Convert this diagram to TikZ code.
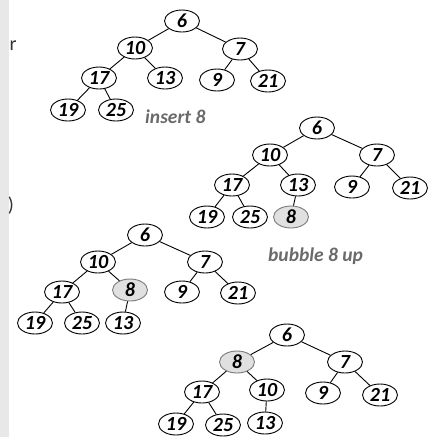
\documentclass[tikz,border=0pt]{standalone}
\usepackage{fontspec}
\setmainfont{Carlito}
\usetikzlibrary{shapes.geometric}
\definecolor{bandgray}{HTML}{E8E8E8}
\definecolor{labelgray}{HTML}{6A6A6A}
\definecolor{hlfill}{HTML}{E0E0E0}
\definecolor{hldraw}{HTML}{7A7A7A}
\tikzset{
  hn/.style={ellipse, draw=black, line width=0.9pt, fill=white, minimum width=35pt, minimum height=22pt, inner sep=0pt, font=\fontsize{20}{20}\selectfont\bfseries\itshape},
  hl/.style={hn, fill=hlfill, draw=hldraw},
  edge/.style={draw=black, line width=0.9pt},
  lbl/.style={font=\fontsize{19.5}{19.5}\selectfont\bfseries\itshape, text=labelgray, inner sep=0pt},
  cut/.style={font=\fontsize{20}{20}\selectfont, text=black!80, inner sep=0pt}
}
\begin{document}
\begin{tikzpicture}[x=1pt,y=-1pt]
\useasboundingbox (0,0) rectangle (437,437);
\fill[bandgray] (0,0) rectangle (9,437);
\node[cut] (cr) at (13,46) {r};
\node[cut] (cp) at (11,206) {)};
% tree 1
\node[hn] (a6) at (182,21) {6};
\node[hn] (a10) at (135,48) {10};
\node[hn] (a7) at (240,49) {7};
\node[hn] (a17) at (99,78) {17};
\node[hn] (a13) at (165,78) {13};
\node[hn] (a9) at (217,80) {9};
\node[hn] (a21) at (268,81) {21};
\node[hn] (a19) at (68,110) {19};
\node[hn] (a25) at (116,110) {25};
\node[lbl,anchor=west] (l1) at (145,117) {insert 8};
\draw[edge] (a6)--(a10) (a6)--(a7) (a10)--(a17) (a10)--(a13) (a7)--(a9) (a7)--(a21) (a17)--(a19) (a17)--(a25);
% tree 2
\node[hn] (b6) at (317,128) {6};
\node[hn] (b10) at (270,155) {10};
\node[hn] (b7) at (377,155) {7};
\node[hn] (b17) at (232,185) {17};
\node[hn] (b13) at (298,185) {13};
\node[hn] (b9) at (352,187) {9};
\node[hn] (b21) at (410,188) {21};
\node[hn] (b19) at (207,217) {19};
\node[hn] (b25) at (250,217) {25};
\node[hl] (b8) at (291,217) {8};
\node[lbl,anchor=west] (l2) at (268,256) {bubble 8 up};
\draw[edge] (b6)--(b10) (b6)--(b7) (b10)--(b17) (b10)--(b13) (b7)--(b9) (b7)--(b21) (b17)--(b19) (b17)--(b25) (b13)--(b8);
% tree 3
\node[hn] (c6) at (145,235) {6};
\node[hn] (c10) at (98,262) {10};
\node[hn] (c7) at (205,262) {7};
\node[hn] (c17) at (62,292) {17};
\node[hl] (c8) at (130,290) {8};
\node[hn] (c9) at (182,292) {9};
\node[hn] (c21) at (238,293) {21};
\node[hn] (c19) at (35,323) {19};
\node[hn] (c25) at (82,323) {25};
\node[hn] (c13) at (123,323) {13};
\draw[edge] (c6)--(c10) (c6)--(c7) (c10)--(c17) (c10)--(c8) (c7)--(c9) (c7)--(c21) (c17)--(c19) (c17)--(c25) (c8)--(c13);
% tree 4
\node[hn] (d6) at (287,335) {6};
\node[hl] (d8) at (237,362) {8};
\node[hn] (d7) at (345,362) {7};
\node[hn] (d17) at (202,392) {17};
\node[hn] (d10) at (267,390) {10};
\node[hn] (d9) at (323,393) {9};
\node[hn] (d21) at (380,395) {21};
\node[hn] (d19) at (176,424) {19};
\node[hn] (d25) at (223,425) {25};
\node[hn] (d13) at (265,423) {13};
\draw[edge] (d6)--(d8) (d6)--(d7) (d8)--(d17) (d8)--(d10) (d7)--(d9) (d7)--(d21) (d17)--(d19) (d17)--(d25) (d10)--(d13);
\end{tikzpicture}
\end{document}
